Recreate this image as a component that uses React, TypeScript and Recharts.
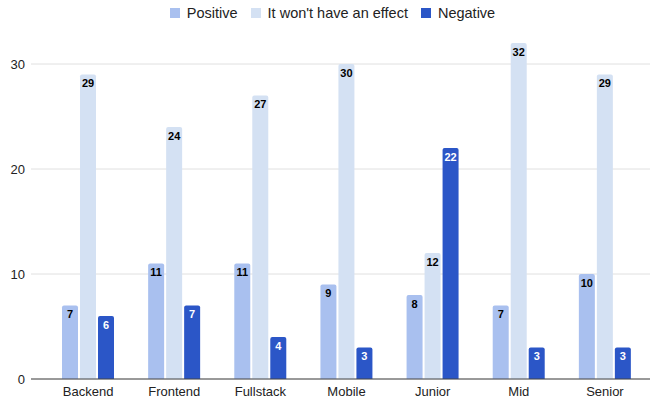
import { Bar, BarChart, CartesianGrid, LabelList, XAxis, YAxis } from "recharts";

const categories = ["Backend", "Frontend", "Fullstack", "Mobile", "Junior", "Mid", "Senior"];
const positive = [7, 11, 11, 9, 8, 7, 10];
const noEffect = [29, 24, 27, 30, 12, 32, 29];
const negative = [6, 7, 4, 3, 22, 3, 3];
const yTicks = [0, 10, 20, 30];

const data = categories.map((c, i) => ({
  name: c,
  Positive: positive[i],
  "It won't have an effect": noEffect[i],
  Negative: negative[i],
}));

const series = [
  { key: "Positive", color: "#a9c0ef", label: "#000" },
  { key: "It won't have an effect", color: "#d4e1f3", label: "#000" },
  { key: "Negative", color: "#2b56c7", label: "#fff" },
];

function ChartLegend() {
  return (
    <div
      style={{
        position: "absolute",
        top: 5,
        left: 3,
        width: 659,
        display: "flex",
        justifyContent: "center",
        alignItems: "center",
        gap: 13,
        fontSize: 14.5,
        color: "#222",
      }}
    >
      {series.map((s) => (
        <div key={s.key} style={{ display: "flex", alignItems: "center", gap: 7 }}>
          <span style={{ display: "inline-block", width: 10, height: 10, background: s.color }} />
          <span>{s.key}</span>
        </div>
      ))}
    </div>
  );
}

export default function App() {
  return (
    <div style={{ position: "relative", width: 659, height: 402, fontFamily: "Liberation Sans, Arial, sans-serif" }}>
      <style>{"body{margin:0}"}</style>
      <ChartLegend />
      <BarChart
        width={659}
        height={402}
        data={data}
        margin={{ top: 43, right: 9, left: 0, bottom: 3 }}
        barGap={2}
        barSize={16}
      >
        <CartesianGrid vertical={false} stroke="#e0e0e0" horizontalValues={yTicks} />
        <XAxis
          dataKey="name"
          height={20}
          padding={{ left: 14, right: 2 }}
          tick={{ fontSize: 13, fill: "#222" }}
          tickLine={false}
          axisLine={{ stroke: "#444" }}
        />
        <YAxis
          width={31}
          domain={[0, 32]}
          ticks={yTicks}
          tick={{ fontSize: 13, fill: "#222" }}
          tickLine={false}
          axisLine={false}
          tickMargin={0}
        />
        {series.map((s) => (
          <Bar key={s.key} dataKey={s.key} fill={s.color} isAnimationActive={false} radius={[2, 2, 0, 0]}>
            <LabelList
              dataKey={s.key}
              position="insideTop"
              offset={5}
              style={{ fontSize: 11, fontWeight: 700, fill: s.label }}
            />
          </Bar>
        ))}
      </BarChart>
    </div>
  );
}
